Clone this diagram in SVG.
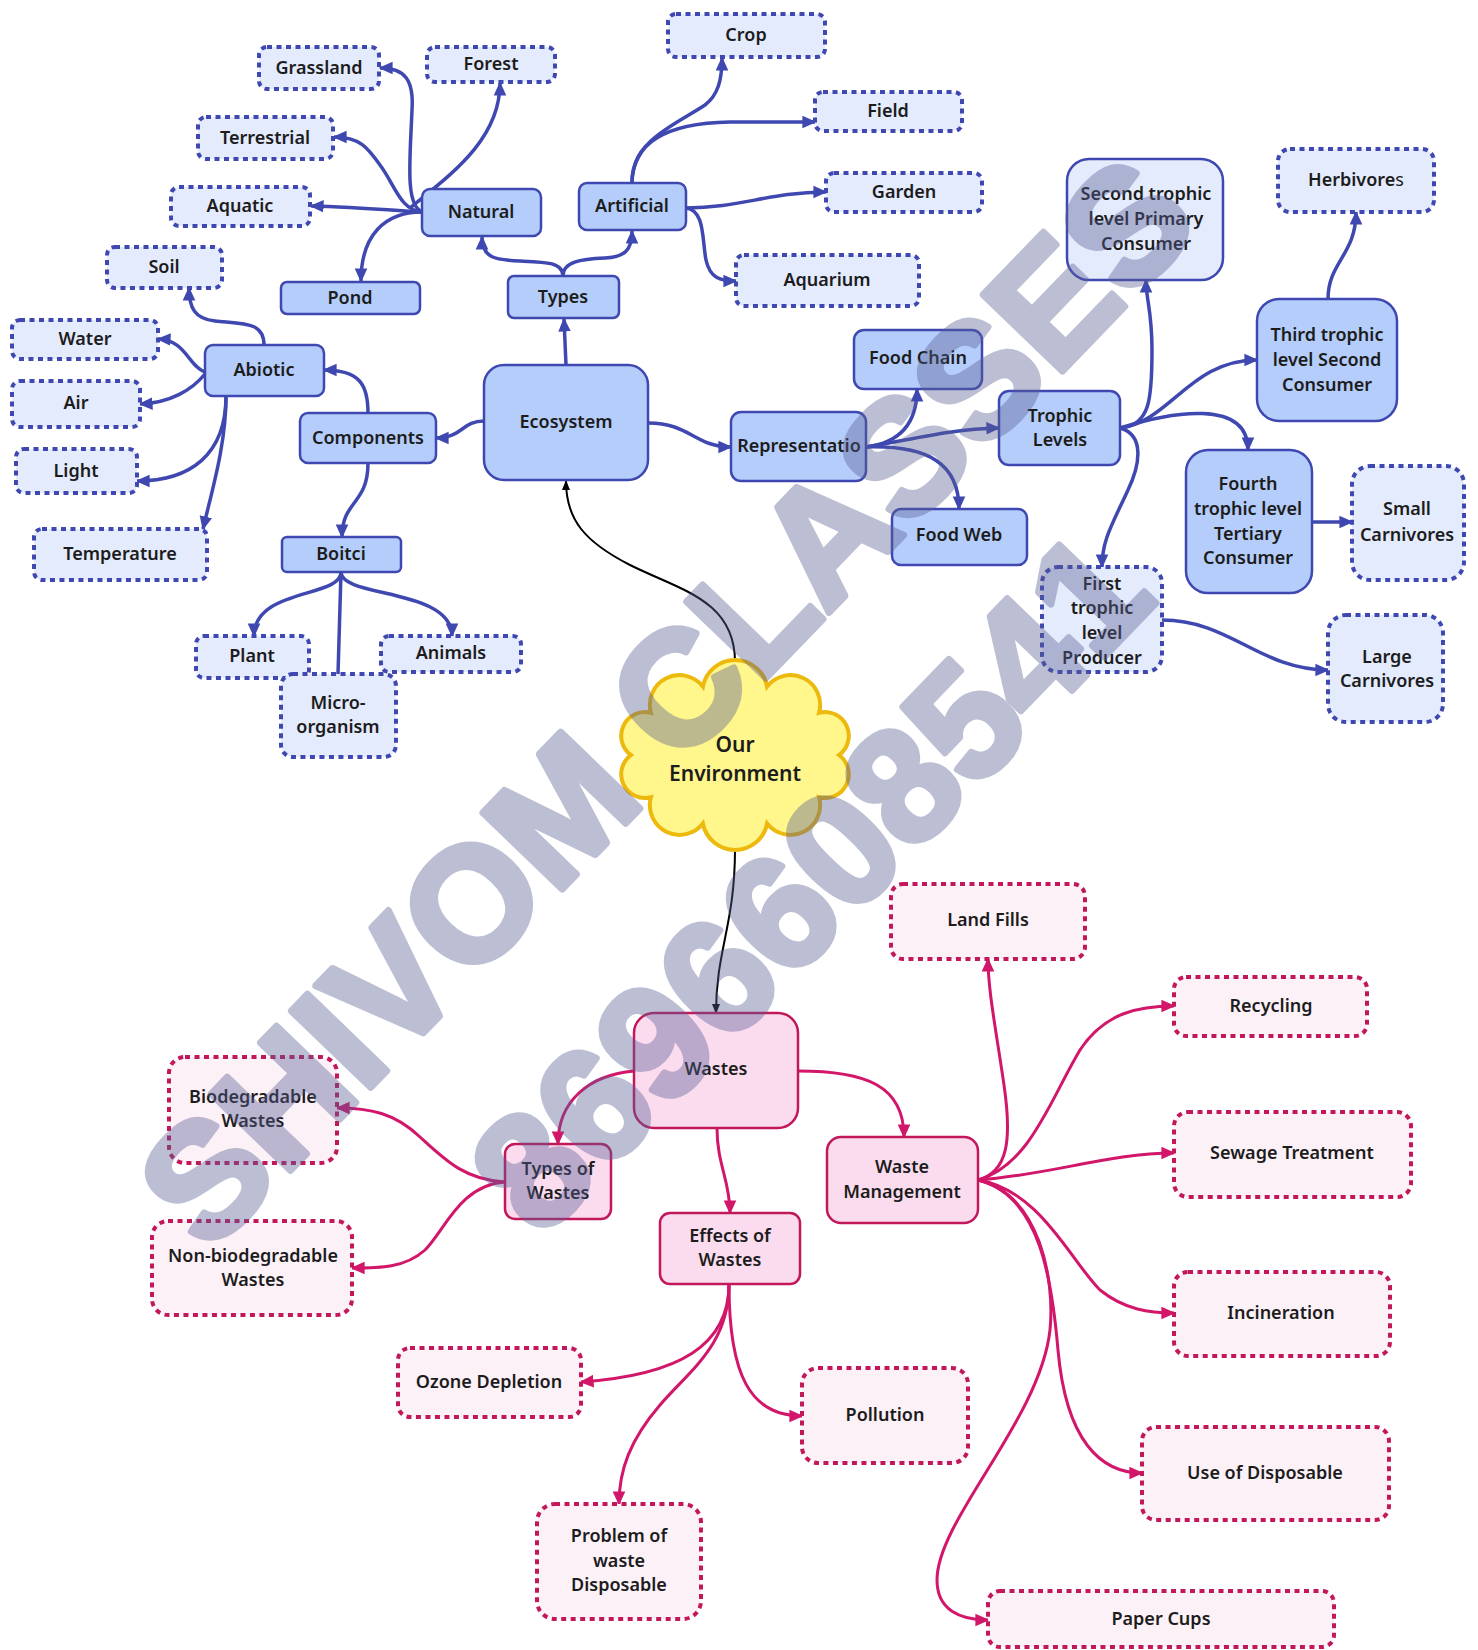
<svg xmlns="http://www.w3.org/2000/svg" width="1478" height="1650" viewBox="0 0 1478 1650">
<style>
text{font-family:"Noto Sans","Open Sans","Liberation Sans",sans-serif;font-weight:600;font-size:18px;fill:#1c1c1c;text-anchor:middle;dominant-baseline:central}
.bs{fill:#b4cdfa;stroke:#3f48b0;stroke-width:2.5}
.bl{fill:#e4ebfc;stroke:#3f48b0;stroke-width:2.5}
.bd{fill:#e4ebfc;stroke:#3f48b0;stroke-width:4;stroke-dasharray:5 4.5}
.ps{fill:#fbdcef;stroke:#c2185b;stroke-width:2.5}
.pd{fill:#fdf1f8;stroke:#c2185b;stroke-width:4;stroke-dasharray:5 4.5}
.cb{fill:none;stroke:#3f48b0;stroke-width:3.5;marker-end:url(#ab)}
.cp{fill:none;stroke:#d2166a;stroke-width:3;marker-end:url(#ap)}
.ck{fill:none;stroke:#000;stroke-width:2;marker-end:url(#ak)}
.wm{font-family:"Liberation Sans",Arial,sans-serif;font-weight:700;fill:#5a5f95;stroke:#5a5f95;stroke-width:7;stroke-linejoin:round;opacity:0.4;dominant-baseline:auto}
</style>
<defs>
<marker id="ab" viewBox="0 0 10 10" refX="9" refY="5" markerWidth="14" markerHeight="14" markerUnits="userSpaceOnUse" orient="auto"><path d="M0,0.5 L10,5 L0,9.5 z" fill="#3f48b0"/></marker>
<marker id="ap" viewBox="0 0 10 10" refX="9" refY="5" markerWidth="14" markerHeight="14" markerUnits="userSpaceOnUse" orient="auto"><path d="M0,0.5 L10,5 L0,9.5 z" fill="#d2166a"/></marker>
<marker id="ak" viewBox="0 0 10 10" refX="9" refY="5" markerWidth="10" markerHeight="10" markerUnits="userSpaceOnUse" orient="auto"><path d="M0,1 L10,5 L0,9 z" fill="#000"/></marker>
</defs>
<rect width="1478" height="1650" fill="#ffffff"/>

<g id="connectors">
<path class="cb" d="M566,365 L564,319"/>
<path class="cb" d="M563,276 C563,262 545,262 520,261 C495,260 482,258 482,237"/>
<path class="cb" d="M563,276 C563,262 580,259 605,258 C625,257 632,250 632,231"/>
<path class="cb" d="M422,212 C405,205 410,160 412,110 C414,80 405,68 380,68"/>
<path class="cb" d="M410,208 C450,175 500,140 500,83"/>
<path class="cb" d="M422,212 C400,210 395,185 380,165 C368,148 360,137 334,137"/>
<path class="cb" d="M422,212 C390,210 350,207 311,206"/>
<path class="cb" d="M422,212 C385,212 361,235 361,281"/>
<path class="cb" d="M632,183 C632,140 675,125 705,105 C718,95 722,80 722,58"/>
<path class="cb" d="M632,183 C632,140 670,123 730,122 L815,122"/>
<path class="cb" d="M686,208 C740,208 770,192 826,192"/>
<path class="cb" d="M686,208 C705,210 702,240 706,260 C710,278 720,281 736,281"/>
<path class="cb" d="M484,421 C462,421 462,438 436,438"/>
<path class="cb" d="M368,413 C368,385 360,370 324,370"/>
<path class="cb" d="M368,463 C368,505 342,500 342,537"/>
<path class="cb" d="M264,345 C264,322 245,324 215,321 C195,319 189,308 189,288"/>
<path class="cb" d="M205,372 C188,366 186,340 158,339"/>
<path class="cb" d="M205,374 C192,390 170,403 140,404"/>
<path class="cb" d="M226,396 C226,455 190,481 137,481"/>
<path class="cb" d="M226,396 C226,445 212,490 203,529"/>
<path class="cb" d="M341,572 C341,598 254,588 254,636"/>
<path class="cb" d="M341,572 C341,598 452,588 452,636"/>
<path fill="none" stroke="#3f48b0" stroke-width="3.5" d="M341,572 L338,674"/>
<path class="cb" d="M648,423 C690,423 695,447 731,447"/>
<path class="cb" d="M866,447 C898,443 917,425 917,389"/>
<path class="cb" d="M866,447 C910,440 950,429 999,428"/>
<path class="cb" d="M866,447 C930,445 959,465 959,509"/>
<path class="cb" d="M1120,428 C1150,425 1152,400 1152,350 C1152,310 1146,300 1146,280"/>
<path class="cb" d="M1120,428 C1170,422 1190,360 1257,360"/>
<path class="cb" d="M1120,428 C1170,412 1248,398 1248,450"/>
<path class="cb" d="M1120,428 C1145,435 1140,465 1128,490 C1112,525 1102,540 1102,567"/>
<path class="cb" d="M1328,299 C1328,262 1356,255 1356,212"/>
<path class="cb" d="M1312,522 L1352,522"/>
<path class="cb" d="M1162,620 C1230,620 1260,670 1328,670"/>
<path class="ck" d="M735,662 C735,600 680,590 630,565 C585,542 566,520 566,481"/>
<path class="ck" d="M735,849 C735,925 716,950 716,1013"/>
<path class="cp" d="M634,1071 C590,1075 558,1100 558,1144"/>
<path class="cp" d="M717,1128 C717,1165 730,1180 730,1213"/>
<path class="cp" d="M798,1071 C865,1071 904,1085 904,1137"/>
<path class="cp" d="M505,1182 C465,1180 445,1160 420,1137 C395,1113 370,1108 337,1108"/>
<path class="cp" d="M505,1182 C460,1185 445,1230 425,1250 C405,1268 380,1268 352,1268"/>
<path class="cp" d="M729,1284 C729,1345 680,1375 581,1382"/>
<path class="cp" d="M729,1284 C729,1375 750,1416 802,1416"/>
<path class="cp" d="M729,1284 C729,1345 690,1370 660,1405 C630,1440 619,1470 619,1504"/>
<path class="cp" d="M978,1180 C1008,1172 1012,1140 1004,1085 C996,1030 988,990 988,959"/>
<path class="cp" d="M978,1180 C1030,1165 1050,1100 1080,1050 C1105,1012 1140,1006 1174,1006"/>
<path class="cp" d="M978,1180 C1050,1175 1110,1153 1174,1153"/>
<path class="cp" d="M978,1180 C1040,1190 1070,1260 1100,1290 C1125,1310 1150,1313 1174,1313"/>
<path class="cp" d="M978,1180 C1040,1195 1052,1280 1058,1350 C1066,1440 1100,1473 1142,1473"/>
<path class="cp" d="M978,1180 C1040,1195 1055,1280 1050,1330 C1040,1420 937,1520 937,1580 C937,1610 960,1620 988,1620"/>
</g>

<g id="n-grassland"><rect class="bd" x="259" y="47" width="120" height="42" rx="8"/><text x="319" y="67">Grassland</text></g>
<g id="n-forest"><rect class="bd" x="427" y="47" width="128" height="35" rx="8"/><text x="491" y="63">Forest</text></g>
<g id="n-terrestrial"><rect class="bd" x="198" y="117" width="135" height="42" rx="8"/><text x="265" y="137">Terrestrial</text></g>
<g id="n-aquatic"><rect class="bd" x="171" y="187" width="139" height="39" rx="8"/><text x="240" y="205">Aquatic</text></g>
<g id="n-soil"><rect class="bd" x="107" y="247" width="115" height="41" rx="8"/><text x="164" y="266">Soil</text></g>
<g id="n-natural"><rect class="bs" x="422" y="189" width="119" height="47" rx="8"/><text x="481" y="211">Natural</text></g>
<g id="n-pond"><rect class="bs" x="281" y="282" width="139" height="32" rx="6"/><text x="350" y="297">Pond</text></g>
<g id="n-types"><rect class="bs" x="508" y="276" width="111" height="42" rx="6"/><text x="563" y="296">Types</text></g>
<g id="n-artificial"><rect class="bs" x="579" y="183" width="107" height="47" rx="8"/><text x="632" y="205">Artificial</text></g>
<g id="n-crop"><rect class="bd" x="668" y="14" width="157" height="43" rx="8"/><text x="746" y="34">Crop</text></g>
<g id="n-field"><rect class="bd" x="815" y="92" width="147" height="39" rx="8"/><text x="888" y="110">Field</text></g>
<g id="n-garden"><rect class="bd" x="826" y="173" width="156" height="39" rx="8"/><text x="904" y="191">Garden</text></g>
<g id="n-aquarium"><rect class="bd" x="736" y="255" width="183" height="51" rx="8"/><text x="827" y="279">Aquarium</text></g>
<g id="n-water"><rect class="bd" x="12" y="320" width="146" height="39" rx="8"/><text x="85" y="338">Water</text></g>
<g id="n-abiotic"><rect class="bs" x="205" y="345" width="119" height="51" rx="8"/><text x="264" y="369">Abiotic</text></g>
<g id="n-air"><rect class="bd" x="12" y="381" width="128" height="46" rx="8"/><text x="76" y="402">Air</text></g>
<g id="n-light"><rect class="bd" x="16" y="449" width="121" height="44" rx="8"/><text x="76" y="470">Light</text></g>
<g id="n-temperature"><rect class="bd" x="34" y="529" width="173" height="51" rx="8"/><text x="120" y="553">Temperature</text></g>
<g id="n-components"><rect class="bs" x="300" y="413" width="136" height="50" rx="8"/><text x="368" y="437">Components</text></g>
<g id="n-boitci"><rect class="bs" x="282" y="537" width="119" height="35" rx="5"/><text x="341" y="553">Boitci</text></g>
<g id="n-plant"><rect class="bd" x="196" y="636" width="113" height="42" rx="8"/><text x="252" y="655">Plant</text></g>
<g id="n-animals"><rect class="bd" x="381" y="636" width="140" height="36" rx="8"/><text x="451" y="652">Animals</text></g>
<g id="n-micro"><rect class="bd" x="281" y="674" width="115" height="83" rx="12"/><text x="338" y="702">Micro-</text><text x="338" y="726">organism</text></g>
<g id="n-ecosystem"><rect class="bs" x="484" y="365" width="164" height="115" rx="20"/><text x="566" y="421">Ecosystem</text></g>
<g id="n-representatio"><rect class="bs" x="731" y="412" width="135" height="69" rx="10"/><text x="799" y="445">Representatio</text></g>
<g id="n-foodchain"><rect class="bs" x="854" y="330" width="128" height="59" rx="10"/><text x="918" y="357">Food Chain</text></g>
<g id="n-foodweb"><rect class="bs" x="892" y="509" width="135" height="56" rx="9"/><text x="959" y="534">Food Web</text></g>
<g id="n-trophic"><rect class="bs" x="999" y="391" width="121" height="74" rx="10"/><text x="1060" y="415">Trophic</text><text x="1060" y="439">Levels</text></g>
<g id="n-second"><rect class="bl" x="1067" y="159" width="156" height="121" rx="22"/><text x="1146" y="193">Second trophic</text><text x="1146" y="218">level Primary</text><text x="1146" y="243">Consumer</text></g>
<g id="n-herbivores"><rect class="bd" x="1278" y="149" width="156" height="63" rx="12"/><text x="1356" y="179">Herbivore<tspan font-weight="400">s</tspan></text></g>
<g id="n-third"><rect class="bs" x="1257" y="299" width="140" height="122" rx="22"/><text x="1327" y="334">Third trophic</text><text x="1327" y="359">level Second</text><text x="1327" y="384">Consumer</text></g>
<g id="n-fourth"><rect class="bs" x="1186" y="450" width="126" height="143" rx="22"/><text x="1248" y="483">Fourth</text><text x="1248" y="508">trophic level</text><text x="1248" y="533">Tertiary</text><text x="1248" y="557">Consumer</text></g>
<g id="n-small"><rect class="bd" x="1352" y="466" width="112" height="114" rx="18"/><text x="1407" y="508">Small</text><text x="1407" y="534">Carnivores</text></g>
<g id="n-first"><rect class="bd" x="1042" y="567" width="120" height="105" rx="16"/><text x="1102" y="583">First</text><text x="1102" y="607">trophic</text><text x="1102" y="632">level</text><text x="1102" y="657">Producer</text></g>
<g id="n-large"><rect class="bd" x="1328" y="615" width="115" height="107" rx="18"/><text x="1387" y="656">Large</text><text x="1387" y="680">Carnivores</text></g>

<g id="n-environment">
<path fill="#fff68c" stroke="#ecb90c" stroke-width="4" d="M702.9,686.5 A32.7,32.7 0 0 1 767.1,686.5 A29.7,29.7 0 0 1 819.1,712.7 A23.8,23.8 0 0 1 839,755 A23.8,23.8 0 0 1 819.1,797.3 A29.7,29.7 0 0 1 767.1,823.5 A32.7,32.7 0 0 1 702.9,823.5 A29.7,29.7 0 0 1 650.9,797.3 A23.8,23.8 0 0 1 631,755 A23.8,23.8 0 0 1 650.9,712.7 A29.7,29.7 0 0 1 702.9,686.5 Z"/>
<text x="735" y="744" style="font-size:21px">Our</text><text x="735" y="773" style="font-size:21px">Environment</text>
</g>

<g id="n-wastes"><rect class="ps" x="634" y="1013" width="164" height="115" rx="20"/><text x="716" y="1068">Wastes</text></g>
<g id="n-typesofwastes"><rect class="ps" x="505" y="1144" width="106" height="75" rx="10"/><text x="558" y="1168">Types of</text><text x="558" y="1192">Wastes</text></g>
<g id="n-bio"><rect class="pd" x="169" y="1057" width="168" height="106" rx="16"/><text x="253" y="1096">Biodegradable</text><text x="253" y="1120">Wastes</text></g>
<g id="n-nonbio"><rect class="pd" x="152" y="1221" width="200" height="94" rx="16"/><text x="253" y="1255">Non-biodegradable</text><text x="253" y="1279">Wastes</text></g>
<g id="n-effects"><rect class="ps" x="660" y="1213" width="140" height="71" rx="10"/><text x="730" y="1235">Effects of</text><text x="730" y="1259">Wastes</text></g>
<g id="n-wm"><rect class="ps" x="827" y="1137" width="151" height="86" rx="14"/><text x="902" y="1166">Waste</text><text x="902" y="1191">Management</text></g>
<g id="n-landfills"><rect class="pd" x="891" y="884" width="194" height="75" rx="12"/><text x="988" y="919">Land Fills</text></g>
<g id="n-recycling"><rect class="pd" x="1174" y="977" width="193" height="59" rx="12"/><text x="1271" y="1005">Recycling</text></g>
<g id="n-sewage"><rect class="pd" x="1174" y="1112" width="237" height="85" rx="14"/><text x="1292" y="1152">Sewage Treatment</text></g>
<g id="n-incineration"><rect class="pd" x="1174" y="1272" width="216" height="84" rx="14"/><text x="1281" y="1312">Incineration</text></g>
<g id="n-useofdisposable"><rect class="pd" x="1142" y="1427" width="247" height="93" rx="14"/><text x="1265" y="1472">Use of Disposable</text></g>
<g id="n-papercups"><rect class="pd" x="988" y="1591" width="346" height="56" rx="12"/><text x="1161" y="1618">Paper Cups</text></g>
<g id="n-ozone"><rect class="pd" x="398" y="1348" width="183" height="69" rx="12"/><text x="489" y="1381">Ozone Depletion</text></g>
<g id="n-pollution"><rect class="pd" x="802" y="1368" width="166" height="95" rx="16"/><text x="885" y="1414">Pollution</text></g>
<g id="n-problem"><rect class="pd" x="537" y="1504" width="164" height="115" rx="18"/><text x="619" y="1535">Problem of</text><text x="619" y="1560">waste</text><text x="619" y="1584">Disposable</text></g>

<g id="watermark">
<text class="wm" style="font-size:160px" text-anchor="middle" transform="translate(706,740) rotate(-46)">SHIVOM CLASSES</text>
<text class="wm" style="font-size:160px" text-anchor="middle" transform="translate(850,920) rotate(-46)">8696608541</text>
</g>
</svg>
